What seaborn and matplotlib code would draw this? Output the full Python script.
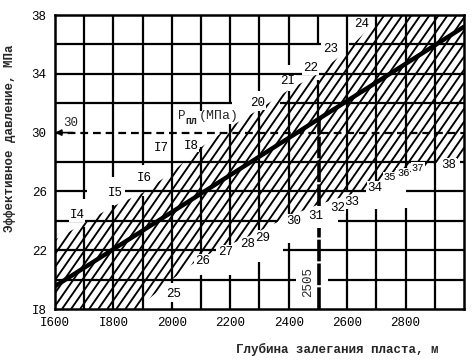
import numpy as np
import matplotlib
matplotlib.use("Agg")
import matplotlib.pyplot as plt
import seaborn as sns
from matplotlib.patches import Polygon
from matplotlib.collections import LineCollection

# ---------------- data ----------------
line_depth = [1600, 3000]
line_pressure = [19.55, 37.2]

upper_depth = [1600, 1800, 1900, 2000, 2100, 2200, 2300, 2400, 2500, 2600, 2720]
upper_press = [22.7, 25.0, 25.9, 27.3, 29.0, 30.4, 31.6, 32.9, 34.0, 35.6, 38.0]
lower_depth = [1880, 2000, 2100, 2290, 2400, 2500, 2660, 2800, 2900, 3000]
lower_press = [18.0, 20.0, 21.5, 23.2, 24.3, 25.1, 26.1, 27.2, 27.9, 28.3]

point_labels = ["I4", "I5", "I6", "I7", "I8", "20", "2I", "22", "23", "24",
                "25", "26", "27", "28", "29", "30", "31", "32", "33", "34",
                "35", "36", "37", "38"]
point_depth = [1675, 1806, 1905, 1965, 2066, 2295, 2398, 2475, 2545, 2650,
               2006, 2105, 2183, 2260, 2312, 2418, 2492, 2567, 2617, 2695,
               2746, 2792, 2842, 2948]
point_press = [24.4, 25.9, 26.9, 28.95, 29.1, 32.0, 33.5, 34.4, 35.7, 37.4,
               19.0, 21.3, 21.9, 22.4, 22.85, 24.0, 24.3, 24.9, 25.25, 26.25,
               26.95, 27.25, 27.6, 27.8]
point_size = [9] * 20 + [7.5, 7.5, 7.5, 9]

read_pressure = 30
read_depth = 2505

x_ticks = [1600, 1800, 2000, 2200, 2400, 2600, 2800]
x_tick_labels = ["I600", "I800", "2000", "2200", "2400", "2600", "2800"]
y_ticks = [18, 22, 26, 30, 34, 38]
y_tick_labels = ["I8", "22", "26", "30", "34", "38"]

x_label = "Глубина залегания пласта, м"
y_label = "Эффективное давление, МПа"

# grid segments (layout of the nomogram grid)
v_segments = {
    1700: [(18, 23.6), (25.5, 38)],
    1800: [(18, 25.1), (27.0, 38)],
    1900: [(18, 25.7), (27.8, 38)],
    2000: [(18, 18.5), (19.8, 38)],
    2100: [(18, 20.3), (21.2, 29.0), (31.5, 38)],
    2200: [(18, 20.3), (22.3, 30.6), (32.0, 38)],
    2300: [(18, 21.2), (23.4, 31.5), (32.8, 38)],
    2400: [(18, 22.5), (24.4, 32.8), (34.6, 38)],
    2500: [(31.0, 33.6), (36.0, 38)],
    2600: [(18, 24.9), (26.0, 38)],
    2700: [(18, 24.8), (26.7, 38)],
    2800: [(18, 24.9), (27.6, 38)],
    2900: [(18, 38)],
}
h_segments = {
    36: [(1600, 2510), (2605, 3000)],
    34: [(1600, 3000)],
    32: [(1600, 2205), (2370, 3000)],
    28: [(1600, 2900), (2985, 3000)],
    26: [(1600, 1710), (1840, 2665), (2800, 3000)],
    24: [(1600, 2360), (2568, 3000)],
    22: [(1600, 2150), (2380, 3000)],
    20: [(1600, 2425), (2535, 3000)],
}

# ---------------- figure ----------------
sns.set_style("white")
plt.rcParams["font.family"] = ["Liberation Mono", "DejaVu Sans"]

fig = plt.figure(figsize=(4.75, 3.61), dpi=100)
ax = fig.add_axes([0.1158, 0.144, 0.861, 0.8144])
ax.set_xlim(1600, 3000)
ax.set_ylim(18, 38)

GRID_LW = 1.6
for x, segs in v_segments.items():
    for y0, y1 in segs:
        ax.plot([x, x], [y0, y1], color="black", lw=GRID_LW, solid_capstyle="butt")
for y, segs in h_segments.items():
    for x0, x1 in segs:
        ax.plot([x0, x1], [y, y], color="black", lw=GRID_LW, solid_capstyle="butt")

# hatched band
px = upper_depth + [3000, 3000] + lower_depth[::-1][1:] + [1600]
py = upper_press + [38, lower_press[-1]] + lower_press[::-1][1:] + [18]
poly = Polygon(np.column_stack([px, py]), closed=True, facecolor="none",
               edgecolor="none")
ax.add_patch(poly)
slope = 0.02855
starts = np.arange(880, 3001, 31)
hatch = LineCollection([[(s, 18), (s + 20 / slope, 38)] for s in starts],
                       colors="black", linewidths=1.35)
ax.add_collection(hatch)
hatch.set_clip_path(poly)

# dashed reading lines
ax.plot([1600, 3000], [read_pressure, read_pressure], color="black", lw=1.6,
        dashes=(3.5, 2.2))
ax.plot([read_depth, read_depth], [18, 23.5], color="black", lw=2.6, dashes=(6, 0.6))
ax.plot([read_depth, read_depth], [25.0, 31.0], color="black", lw=2.6, dashes=(6, 0.6))
ax.annotate("", xy=(1600, read_pressure), xytext=(1660, read_pressure),
            arrowprops=dict(arrowstyle="-|>", color="black", lw=1.2,
                            mutation_scale=9, shrinkA=0, shrinkB=0))

# main line
sns.lineplot(x=line_depth, y=line_pressure, ax=ax, color="black", lw=3.2)

# point labels
for s, x, y, fs in zip(point_labels, point_depth, point_press, point_size):
    ax.text(x, y, s, ha="center", va="center", fontsize=fs, color="black",
            zorder=5, bbox=dict(boxstyle="square,pad=0.05", fc="white", ec="none"))

ax.text(1655, 30.65, "30", ha="center", va="center", fontsize=9)
ax.text(2465, 19.85, "2505", ha="center", va="center", fontsize=9, rotation=90)
ax.text(2034, 31.15, "P", ha="center", va="center", fontsize=9)
ax.text(2068, 30.8, "пл", ha="center", va="center", fontsize=7, fontweight="bold")
ax.text(2160, 31.1, "(МПа)", ha="center", va="center", fontsize=9.5)

# axes decoration
for sp in ax.spines.values():
    sp.set_color("black")
    sp.set_linewidth(1.8)
    sp.set_visible(True)
ax.set_xticks(x_ticks)
ax.set_xticklabels(x_tick_labels, fontsize=9)
ax.set_yticks(y_ticks)
ax.set_yticklabels(y_tick_labels, fontsize=9)
ax.tick_params(length=0, pad=6, colors="black")
ax.set_xlabel(x_label, fontsize=9, fontweight="bold")
ax.set_ylabel(y_label, fontsize=9, fontweight="bold")
ax.xaxis.set_label_coords(0.69, -0.115)
ax.yaxis.set_label_coords(-0.095, 0.58)

fig.savefig("out.png", dpi=100)
